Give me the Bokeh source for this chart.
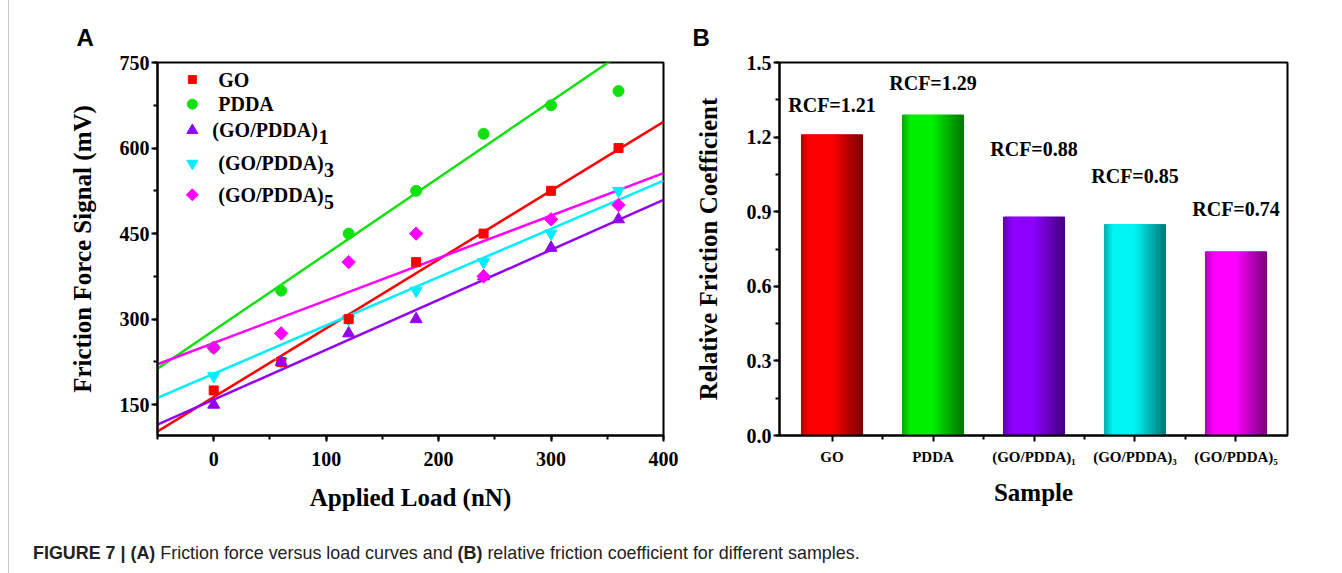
import math
from bokeh.plotting import figure
from bokeh.layouts import row, column
from bokeh.models import SingleIntervalTicker, FixedTicker, Range1d, Div, PrintfTickFormatter
from bokeh.embed import file_html
from bokeh.resources import INLINE
from bokeh.core.properties import value

# ---------------- data ----------------
load_nN = [0, 60, 120, 180, 240, 300, 360]
go_mv = [175, 225, 300, 400, 450, 525, 600]
pdda_mv = [250, 350, 450, 525, 625, 675, 700]
gp1_mv = [150, 225, 275, 300, 375, 425, 475]
gp3_mv = [200, 225, 300, 350, 400, 450, 525]
gp5_mv = [250, 275, 400, 450, 375, 475, 500]

fit_load = [-50, 400]
go_fit = [103, 646]
pdda_fit = [213, 816]
gp1_fit = [115, 509]
gp3_fit = [162, 543]
gp5_fit = [221, 556]

series_names = ["GO", "PDDA", "(GO/PDDA)", "(GO/PDDA)", "(GO/PDDA)"]
series_subs = ["", "", "1", "3", "5"]

samples = ["GO", "PDDA", "(GO/PDDA)\u2081", "(GO/PDDA)\u2083", "(GO/PDDA)\u2085"]
rcf = [1.21, 1.29, 0.88, 0.85, 0.74]
rcf_text = ["RCF=1.21", "RCF=1.29", "RCF=0.88", "RCF=0.85", "RCF=0.74"]

# ---------------- styling / layout ----------------
SERIF = "Liberation Serif"
c_red, c_green, c_purple, c_cyan, c_mag = "#ff0000", "#11e011", "#9400f0", "#00eeff", "#ff00ff"
colors = [c_red, c_green, c_purple, c_cyan, c_mag]
markers = ["square", "circle", "triangle", "inverted_triangle", "square"]
msizes = [9, 11, 12, 12, 9.5]
mangles = [0, 0, 0, 0, math.pi / 4]

def style_axes(p, tick_size="20px"):
    p.grid.visible = False
    p.outline_line_color = "black"
    p.outline_line_width = 2
    for ax in (p.xaxis[0], p.yaxis[0]):
        ax.axis_line_width = 2
        ax.major_tick_line_width = 2
        ax.minor_tick_line_width = 2
        ax.major_tick_in = 0
        ax.major_tick_out = 6
        ax.minor_tick_in = 0
        ax.minor_tick_out = 4
        ax.major_label_text_font = SERIF
        ax.major_label_text_font_style = "bold"
        ax.major_label_text_font_size = tick_size
        ax.major_label_text_color = "black"
        ax.axis_label_text_font = SERIF
        ax.axis_label_text_font_style = "bold"
        ax.axis_label_text_font_size = "25px"
        ax.axis_label_text_color = "black"

def panel_letter(p, letter, offset):
    p.title.text = letter
    p.title.align = "left"
    p.title.offset = offset
    p.title.text_font = "Liberation Sans"
    p.title.text_font_style = "bold"
    p.title.text_font_size = "24px"
    p.title.text_color = "black"
    p.title.standoff = 23

# ---------------- panel A ----------------
pa = figure(width=682, height=520, x_range=Range1d(-50, 400), y_range=Range1d(96, 750),
            output_backend="svg", toolbar_location=None,
            min_border_left=148, min_border_right=28, min_border_top=62, min_border_bottom=83)
style_axes(pa)
panel_letter(pa, "A", -81)
pa.xaxis.ticker = SingleIntervalTicker(interval=100, num_minor_ticks=2)
pa.yaxis.ticker = SingleIntervalTicker(interval=150, num_minor_ticks=2)
pa.xaxis.axis_label = "Applied Load (nN)"
pa.yaxis.axis_label = "Friction Force Signal (mV)"
pa.xaxis.major_label_standoff = 10
pa.yaxis.major_label_standoff = 2
pa.xaxis.axis_label_standoff = 15
pa.yaxis.axis_label_standoff = 21

fits = [go_fit, pdda_fit, gp1_fit, gp3_fit, gp5_fit]
vals = [go_mv, pdda_mv, gp1_mv, gp3_mv, gp5_mv]
for f, c in zip(fits, colors):
    pa.line(fit_load, f, line_color=c, line_width=2.5)
for idx in [1, 3, 0, 2, 4]:
    pa.scatter(load_nN, vals[idx], marker=markers[idx], size=msizes[idx], angle=mangles[idx],
               fill_color=colors[idx], line_color=colors[idx])

# legend (drawn by hand so the subscripts look like the reference)
leg_marker_x = -19
leg_y = [720, 677, 631, 573, 518]
leg_text_x = [4, 4, -1.2, 4, 4]
leg_sub_x = [0, 0, 93.5, 98, 98]
for i in range(5):
    pa.scatter([leg_marker_x], [leg_y[i]], marker=markers[i], size=msizes[i] - 1, angle=mangles[i],
               fill_color=colors[i], line_color=colors[i])
    pa.text([leg_text_x[i]], [leg_y[i]], text=[series_names[i]], text_font=value(SERIF),
            text_font_style="bold", text_font_size="20px", text_baseline="middle",
            text_align="left", text_color="black")
    if series_subs[i]:
        pa.text([leg_sub_x[i]], [leg_y[i] - 12], text=[series_subs[i]], text_font=value(SERIF),
                text_font_style="bold", text_font_size="20px", text_baseline="middle",
                text_align="left", text_color="black")

# ---------------- panel B ----------------
pb = figure(width=644, height=520, x_range=Range1d(-0.52, 4.51), y_range=Range1d(0, 1.5),
            output_backend="svg", toolbar_location=None,
            min_border_left=87, min_border_right=48, min_border_top=62, min_border_bottom=85)
style_axes(pb)
panel_letter(pb, "B", -87)
pb.yaxis.ticker = SingleIntervalTicker(interval=0.3, num_minor_ticks=2)
pb.yaxis.formatter = PrintfTickFormatter(format="%.1f")
pb.xaxis.ticker = FixedTicker(ticks=[0, 1, 2, 3, 4], minor_ticks=[0.5, 1.5, 2.5, 3.5])
pb.xaxis.major_label_overrides = {i: s for i, s in enumerate(samples)}
pb.xaxis.major_label_text_font_size = "15px"
pb.xaxis.major_label_standoff = 7
pb.xaxis.axis_label = "Sample"
pb.yaxis.axis_label = "Relative Friction Coefficient"
pb.yaxis.major_label_standoff = 2
pb.xaxis.axis_label_standoff = 11
pb.yaxis.axis_label_standoff = 22

# shaded (cylinder-like) bars: a base bar plus overlapping thin strips
BAR_W = 0.6
N = 24
def shade(t):
    if t < 0.15:
        return 0.70 + 0.30 * t / 0.15
    if t < 0.5:
        return 1.0
    return 1.0 - 0.5 * (t - 0.5) / 0.5

def hexmix(hexcol, f):
    r, g, b = int(hexcol[1:3], 16), int(hexcol[3:5], 16), int(hexcol[5:7], 16)
    return "#%02x%02x%02x" % (int(r * f), int(g * f), int(b * f))

bar_base = ["#ff0000", "#00f000", "#8c00ff", "#00f5f5", "#ff00ff"]
pb.vbar(x=list(range(len(samples))), top=rcf, bottom=0, width=BAR_W,
        fill_color=[hexmix(c, 0.85) for c in bar_base], line_color=None)
xs, tops, cols = [], [], []
strip = BAR_W / N
for i in range(len(samples)):
    for k in range(N):
        t = (k + 0.5) / N
        xs.append(i - BAR_W / 2 + t * BAR_W)
        tops.append(rcf[i])
        cols.append(hexmix(bar_base[i], shade(t)))
pb.vbar(x=xs, top=tops, bottom=0, width=strip * 1.6, fill_color=cols, line_color=None)

label_lift = [0.121, 0.129, 0.274, 0.195, 0.169]
pb.text(x=list(range(len(samples))), y=[v + l for v, l in zip(rcf, label_lift)], text=rcf_text,
        text_font=value(SERIF), text_font_style="bold", text_font_size="20px",
        text_align="center", text_baseline="middle", text_color="black")

# ---------------- caption ----------------
cap = Div(text='<span style="font-weight:bold">FIGURE 7 | (A)</span> Friction force versus load curves and '
               '<span style="font-weight:bold">(B)</span> relative friction coefficient for different samples.',
          width=1326, height=45,
          styles={"font-family": "'Liberation Sans', sans-serif",
                  "font-size": "17.9px", "padding-top": "16px", "padding-left": "19px",
                  "color": "#222", "box-sizing": "border-box"})

layout = column(row(pa, pb), cap,
                styles={"margin-left": "8px", "border-left": "1px solid #c8c8c8"})
open("out.html", "w").write(file_html(layout, INLINE))
